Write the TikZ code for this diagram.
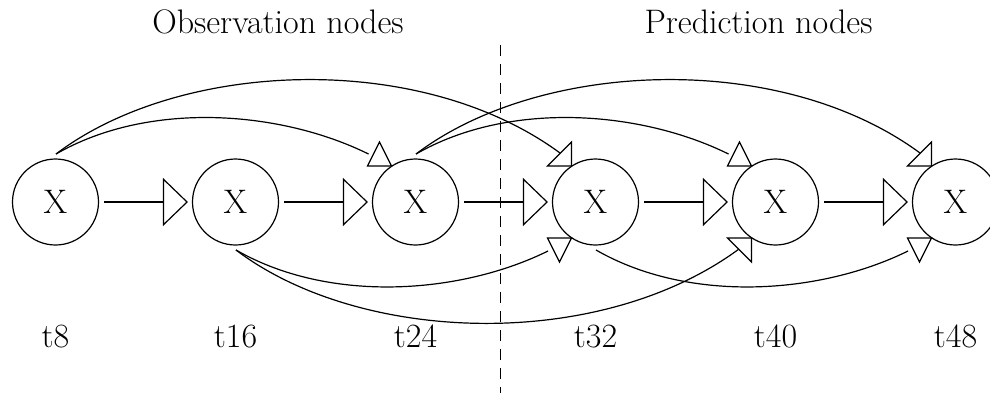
\documentclass[tikz,border=0pt]{standalone}
\usepackage{fontspec}
\usetikzlibrary{arrows.meta,calc}
\begin{document}
\begin{tikzpicture}[x=0.5pt,y=-0.5pt,line width=0.6pt,
  txt/.style={font=\fontsize{17pt}{20pt}\selectfont},
  xnode/.style={circle,draw,minimum size=43pt,inner sep=0pt,txt},
  harrow/.style={-{Triangle[open,length=12.5pt,width=24pt]},shorten <=2.5pt,shorten >=2pt},
  tri/.style={draw,fill=white,line join=miter},
  sep/.style={line width=0.5pt,dash pattern=on 5.5pt off 4pt}]
\path[use as bounding box,clip] (0,0) rectangle (990,392);
% nodes
\foreach \i/\t in {1/8,2/16,3/24,4/32,5/40,6/48}{
  \node[xnode] (n\i) at ({55.5+180*(\i-1)},202) {X};
  \node[txt,anchor=base] (l\i) at ({55.5+180*(\i-1)},347) {t\t};
}
\node[txt,anchor=base] (obs) at (278,33) {Observation nodes};
\node[txt,anchor=base] (pred) at (758.5,33) {Prediction nodes};
% separator
\coordinate (dtop) at (500,45);
\coordinate (dbot) at (500,395);
\draw[sep] (dtop) -- (dbot);
% horizontal edges
\draw[harrow] (n1) -- (n2);
\draw[harrow] (n2) -- (n3);
\draw[harrow] (n3) -- (n4);
\draw[harrow] (n4) -- (n5);
\draw[harrow] (n5) -- (n6);
% top arcs
\draw ($(n1)+(0.5,-48)$) .. controls +(94,-54) and +(-87,-43) .. ($(n3)+(-47,-48)$);
\draw ($(n1)+(0.5,-48)$) .. controls +(124,-94) and +(-140,-103) .. ($(n4)+(-35.5,-49)$);
\draw ($(n3)+(0.5,-48)$) .. controls +(94,-54) and +(-87,-43) .. ($(n5)+(-47,-48)$);
\draw ($(n3)+(0.5,-48)$) .. controls +(124,-94) and +(-140,-103) .. ($(n6)+(-35.5,-49)$);
% bottom arcs
\draw ($(n2)+(0.5,48)$) .. controls +(94,54) and +(-87,43) .. ($(n4)+(-47.5,49)$);
\draw ($(n2)+(0.5,48)$) .. controls +(124,94) and +(-140,103) .. ($(n5)+(-36.5,47)$);
\draw ($(n4)+(0.5,48)$) .. controls +(94,54) and +(-87,43) .. ($(n6)+(-47.5,49)$);
% arrowheads at arc ends
\draw[tri] ($(n3)+(-48,-36)$) -- ++(24,0) -- ++(-12,-24) -- cycle;
\draw[tri] ($(n4)+(-48,-36)$) -- ++(24,0) -- ++(0,-24) -- cycle;
\draw[tri] ($(n5)+(-48,-36)$) -- ++(24,0) -- ++(-12,-24) -- cycle;
\draw[tri] ($(n6)+(-48,-36)$) -- ++(24,0) -- ++(0,-24) -- cycle;
\draw[tri] ($(n4)+(-48,36)$) -- ++(24,0) -- ++(-12,24) -- cycle;
\draw[tri] ($(n5)+(-48,36)$) -- ++(24,0) -- ++(0,24) -- cycle;
\draw[tri] ($(n6)+(-48,36)$) -- ++(24,0) -- ++(-12,24) -- cycle;
\end{tikzpicture}
\end{document}
